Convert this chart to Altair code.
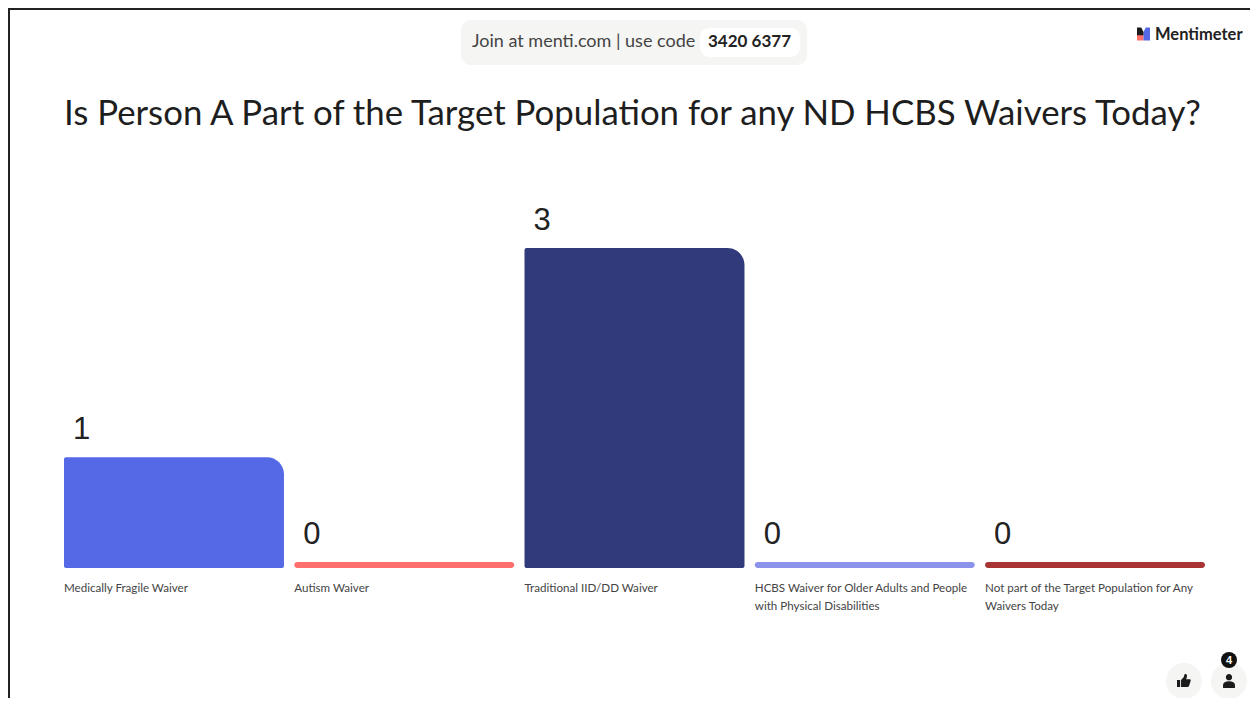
import altair as alt
import pandas as pd

categories = [
    "Medically Fragile Waiver",
    "Autism Waiver",
    "Traditional IID/DD Waiver",
    "HCBS Waiver for Older Adults and People\nwith Physical Disabilities",
    "Not part of the Target Population for Any\nWaivers Today",
]
values = [1, 0, 3, 0, 0]
colors = ["#5569E6", "#FF6F6B", "#313B7B", "#8B93EA", "#A83434"]
floor_value = -0.057

title_text = "Is Person A Part of the Target Population for any ND HCBS Waivers Today?"
join_text = "Join at menti.com | use code"
code_text = "3420 6377"
brand_text = "Mentimeter"
badge_text = "4"

W, H = 1242, 690
OX, OY = 8, 8


def px(v):
    return v - OX


def py(v):
    return v - OY


df = pd.DataFrame({"category": categories, "value": values, "floor": floor_value})

x_scale = alt.Scale(domain=categories, range=[px(64), px(1205)], paddingInner=0.0447, paddingOuter=0)
x_enc = alt.X("category:N", sort=categories, axis=None, scale=x_scale)
x_start = alt.X("category:N", sort=categories, axis=None, bandPosition=0, scale=x_scale)
y_enc = alt.Y(
    "value:Q",
    axis=None,
    scale=alt.Scale(domain=[floor_value, 3], range=[py(568), py(248)], nice=False, zero=False),
)
color_enc = alt.Color("category:N", legend=None, scale=alt.Scale(domain=categories, range=colors))

base = alt.Chart(df)

tall = (
    base.transform_filter("datum.value > 0")
    .mark_bar(cornerRadiusTopRight=17, cornerRadiusTopLeft=2, cornerRadiusBottomLeft=2, cornerRadiusBottomRight=2)
    .encode(x=x_enc, y=y_enc, y2="floor:Q", color=color_enc)
)
flat = (
    base.transform_filter("datum.value == 0")
    .mark_bar(cornerRadius=3)
    .encode(x=x_enc, y=y_enc, y2="floor:Q", color=color_enc)
)
value_labels = base.mark_text(
    align="left", baseline="alphabetic", dx=9, dy=-18, font="Liberation Sans", fontSize=31, color="#222222"
).encode(x=x_start, y=y_enc, text="value:Q")
cat_labels = base.mark_text(
    align="left", baseline="alphabetic", lineBreak="\n", lineHeight=18, font="Lato", fontSize=11.6, color="#444444"
).encode(x=x_start, y=alt.value(py(592)), text="category:N")


def rect(x0, x1, y0, y1, color, radius=0):
    kw = {"cornerRadius": radius} if radius else {}
    return (
        alt.Chart(pd.DataFrame({"a": [0]}))
        .mark_rect(color=color, **kw)
        .encode(x=alt.value(px(x0)), x2=alt.value(px(x1)), y=alt.value(py(y0)), y2=alt.value(py(y1)))
    )


def label(x, y, text, size, color, font="Lato", weight=400, align="left"):
    return (
        alt.Chart(pd.DataFrame({"t": [text]}))
        .mark_text(align=align, baseline="alphabetic", font=font, fontSize=size, fontWeight=weight, color=color)
        .encode(x=alt.value(px(x)), y=alt.value(py(y)), text="t:N")
    )


def dot(x, y, r, color):
    return (
        alt.Chart(pd.DataFrame({"a": [0]}))
        .mark_point(shape="circle", filled=True, opacity=1, color=color, size=4 * r * r)
        .encode(x=alt.value(px(x)), y=alt.value(py(y)))
    )


def glyph(x, y, side, path, color):
    return (
        alt.Chart(pd.DataFrame({"a": [0]}))
        .mark_point(shape=path, filled=True, opacity=1, color=color, size=side * side, strokeWidth=0)
        .encode(x=alt.value(px(x)), y=alt.value(py(y)))
    )


LOGO_DARK = "M-1,-1 L-0.35,-1 L0,-0.3 L0,0.2 L-1,0.2 Z"
LOGO_RED = "M-1,0.15 L0,0.15 L0,1 L-1,1 Z"
LOGO_BLUE = "M0,-0.3 L0.35,-1 L1,-1 L1,1 L0,1 Z"
THUMB = (
    "M-1,-0.15 L-0.55,-0.15 L-0.55,0.85 L-1,0.85 Z "
    "M-0.42,-0.15 L-0.05,-0.55 L0.1,-1 L0.3,-1 Q0.5,-0.9 0.4,-0.5 L0.3,-0.25 L0.85,-0.25 "
    "Q1,-0.2 0.95,0 L0.7,0.75 Q0.65,0.85 0.5,0.85 L-0.42,0.85 Z"
)
PERSON = (
    "M0,-1 A0.45,0.45 0 1 1 -0.001,-1 Z "
    "M-0.85,1 L-0.85,0.55 Q-0.8,0.05 0,0.05 Q0.8,0.05 0.85,0.55 L0.85,1 Z"
)

layers = [
    rect(8, 10, 8, 706, "#222222"),
    rect(8, 1258, 8, 10, "#222222"),
    rect(461, 807, 20, 65, "#F5F5F3", 10),
    rect(700, 800, 28, 57, "#FFFFFF", 9),
    label(472, 47, join_text, 18, "#444444"),
    label(708, 47, code_text, 17, "#222222", weight=700),
    label(1155, 40, brand_text, 16.5, "#222222", weight=700),
    glyph(1143.5, 34, 13, LOGO_RED, "#FF6F6B"),
    glyph(1143.5, 34, 13, LOGO_BLUE, "#5569E6"),
    glyph(1143.5, 34, 13, LOGO_DARK, "#1B1B1B"),
    label(64, 125, title_text, 34.8, "#1E1E1E"),
    tall,
    flat,
    value_labels,
    cat_labels,
    dot(1184, 681, 18, "#F5F5F3"),
    dot(1229, 681, 18, "#F5F5F3"),
    glyph(1184, 681, 14, THUMB, "#1B1B1B"),
    glyph(1229, 681, 14, PERSON, "#1B1B1B"),
    dot(1229, 660, 8, "#111111"),
    label(1229, 664, badge_text, 11, "#FFFFFF", font="Liberation Sans", weight=700, align="center"),
]

chart = (
    alt.layer(*layers)
    .properties(width=W, height=H, padding=0, autosize=alt.AutoSizeParams(type="none"), background="#FFFFFF")
    .configure_view(stroke=None)
)

chart.save("out.html", embed_options={"renderer": "svg", "actions": False})
